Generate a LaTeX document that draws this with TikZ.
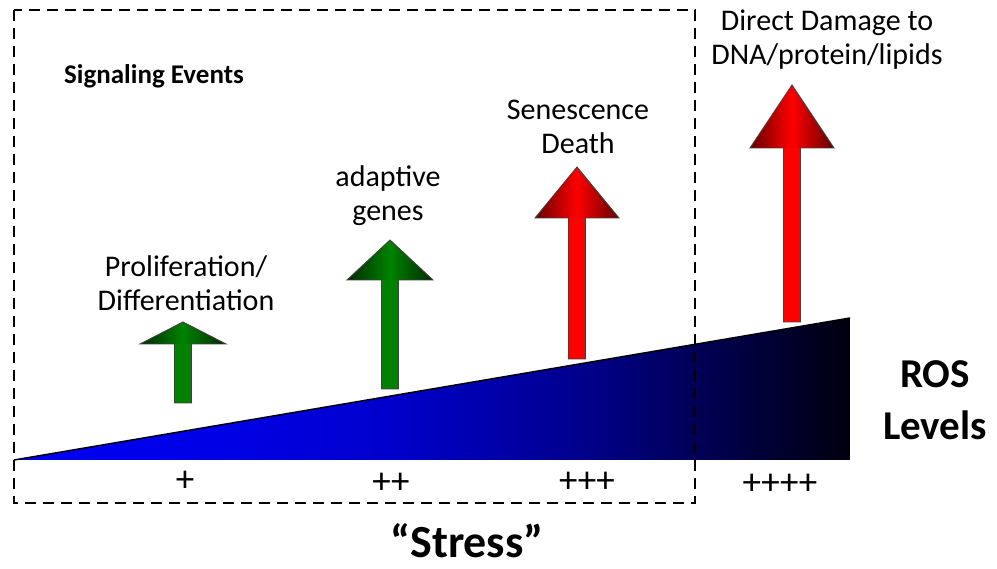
\documentclass[tikz,border=0pt]{standalone}
\usepackage{fontspec}
\setmainfont{Carlito}
\definecolor{grnmid}{RGB}{0,130,0}
\definecolor{grndark}{RGB}{0,40,0}
\definecolor{redmid}{RGB}{255,0,0}
\definecolor{reddark}{RGB}{100,0,0}
\pgfdeclarehorizontalshading{rosgrad}{100bp}{
  rgb(0bp)=(0,0,0.95); rgb(25bp)=(0,0,0.95); rgb(37.5bp)=(0,0,0.9); rgb(47.5bp)=(0,0,0.8); rgb(59bp)=(0,0,0.55); rgb(66bp)=(0,0,0.33); rgb(75bp)=(0,0,0.06); rgb(100bp)=(0,0,0.06)}
\tikzset{
  lbl/.style={align=center, font=\fontsize{30}{34}\selectfont, inner sep=0pt},
  plus/.style={font=\fontsize{37}{40}\selectfont, inner sep=0pt},
  outl/.style={draw=black!75, line width=0.9pt, line join=miter},
}
% \uparr{cx}{tipy}{basey}{halfhead}{halfshaft}{bottom}{mid}{dark}
\newcommand\uparr[8]{%
  \fill[#7] (#1-#5,#3) rectangle (#1+#5,#6);
  \shade[left color=#8, right color=#8, middle color=#7] (#1-#4,#3) -- (#1,#2) -- (#1+#4,#3) -- cycle;
  \draw[outl] (#1-#5,#6) -- (#1-#5,#3) -- (#1-#4,#3) -- (#1,#2) -- (#1+#4,#3) -- (#1+#5,#3) -- (#1+#5,#6) -- cycle;
}
\begin{document}
\begin{tikzpicture}[x=1pt,y=-1pt]
\useasboundingbox (0,0) rectangle (997,569);
% wedge
\shade[shading=rosgrad] (14,460) -- (850,318) -- (850,460) -- cycle;
\draw[line width=1.5pt] (14,460) -- (850,318);
% dashed box
\draw[dashed, dash pattern=on 11pt off 7pt, line width=2pt] (14,10) rectangle (695,503);
% arrows
\uparr{183}{322}{344}{43}{8.5}{403}{grnmid}{grndark}
\uparr{390}{240}{280}{43}{8.5}{389}{grnmid}{grndark}
\uparr{577}{167}{218}{42}{8.5}{359}{redmid}{reddark}
\uparr{792}{85}{148}{42}{8.5}{322}{redmid}{reddark}
% texts
\node[font=\bfseries\fontsize{27}{30}\selectfont, inner sep=0pt] (sig) at (154,76) {Signaling Events};
\node[lbl] (prolif) at (186,283) {Proliferation/\\Differentiation};
\node[lbl] (adapt) at (388,196) {adaptive\\genes};
\node[lbl] (senes) at (578,127) {Senescence\\Death};
\node[lbl] (dmg) at (827,40) {Direct Damage to\\DNA/protein/lipids};
\node[align=center, font=\bfseries\fontsize{41}{52}\selectfont, inner sep=0pt] (ros) at (935,400) {ROS\\Levels};
\node[plus] (p1) at (185,481) {+};
\node[plus] (p2) at (391,483) {++};
\node[plus] (p3) at (587,482) {+++};
\node[plus] (p4) at (780,484) {++++};
\node[font=\bfseries\fontsize{46}{50}\selectfont, inner sep=0pt] (stress) at (467,541) {“Stress”};
\end{tikzpicture}
\end{document}
